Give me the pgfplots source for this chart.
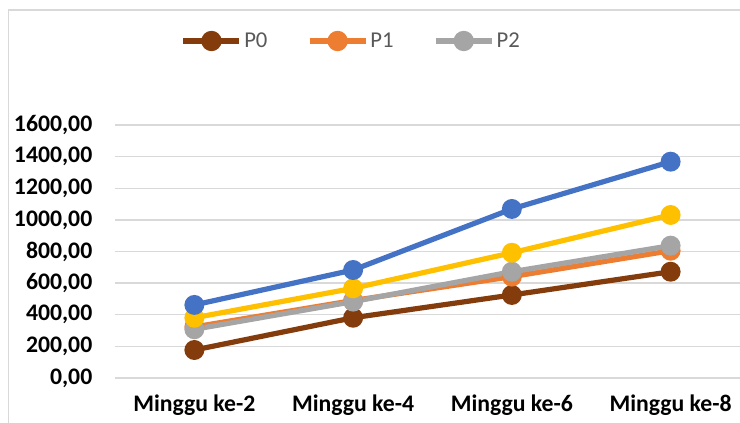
\documentclass[border=0pt]{standalone}
\usepackage{pgfplots}
\pgfplotsset{compat=1.18}
\usepackage{fontspec}
\setmainfont{Carlito}
\definecolor{sBlue}{HTML}{4472C4}
\definecolor{sOrange}{HTML}{ED7D31}
\definecolor{sGray}{HTML}{A5A5A5}
\definecolor{sYellow}{HTML}{FFC000}
\definecolor{sBrown}{HTML}{843C0C}
\definecolor{gridc}{HTML}{D9D9D9}
\definecolor{legtext}{HTML}{595959}
\begin{document}
\begin{tikzpicture}
\begin{axis}[
  scale only axis,
  width=476.25pt, height=189.75pt,
  xmin=-0.5, xmax=3.5,
  ymin=0, ymax=1600,
  axis line style={draw=none},
  major tick length=0pt,
  xtick={0,1,2,3},
  xticklabels={Minggu ke-2,Minggu ke-4,Minggu ke-6,Minggu ke-8},
  ytick={0,200,...,1600},
  ymajorgrids,
  grid style={gridc, line width=1.1pt},
  /pgf/number format/.cd, fixed, fixed zerofill, precision=2, use comma, 1000 sep={}, assume math mode=true,
  /pgfplots/.cd,
  ticklabel style={font=\fontsize{17.8}{20}\selectfont\bfseries, text=black},
  yticklabel style={xshift=-13.5pt},
  xticklabel style={yshift=-9pt},
  every axis plot/.append style={line width=3.9pt, mark=*, mark size=5.5pt},
  legend style={at={(axis description cs:0.372,1.332)}, anchor=center, draw=none,
    legend columns=-1, font=\fontsize{17}{20}\selectfont, text=legtext,
    nodes={inner sep=1.5pt},
    /tikz/every even column/.append style={column sep=28pt}},
  legend image code/.code={\draw[mark repeat=2,mark phase=2,line width=4.2pt,mark size=5.5pt]
    plot coordinates {(0pt,0pt)(21pt,0pt)(42pt,0pt)};},
]
\addplot[sBrown] coordinates {(0,177) (1,381) (2,525) (3,672)};
\addplot[sOrange] coordinates {(0,323) (1,490) (2,641) (3,805)};
\addplot[sGray] coordinates {(0,308) (1,483) (2,672) (3,837)};
\addplot[sYellow, forget plot] coordinates {(0,381) (1,567) (2,792) (3,1031)};
\addplot[sBlue, forget plot] coordinates {(0,462) (1,683) (2,1069) (3,1368)};
\legend{P0,P1,P2}
\coordinate (O) at (rel axis cs:0,0);
\end{axis}
\draw[gridc, line width=1.2pt] (O) ++(-80pt,-60pt) -- ++(0,336pt) -- ++(600pt,0);
\pgfresetboundingbox
\path[use as bounding box] (O) ++(-86.25pt,-33.75pt) rectangle ++(555pt,317.25pt);
\end{tikzpicture}
\end{document}
